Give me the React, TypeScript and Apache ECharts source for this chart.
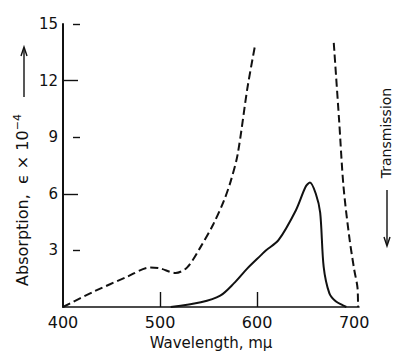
import React, { useEffect, useRef } from "react";
import * as echarts from "echarts";

// Dashed curve, short-wavelength branch (nm, ε×10⁻⁴)
const dashedLeftX = [400, 431, 466, 490, 500, 516, 528, 542, 555, 566, 573, 580, 590, 598];
const dashedLeftY = [0, 0.8, 1.6, 2.1, 2.05, 1.8, 2.1, 3.2, 4.4, 5.66, 6.7, 8.1, 11.6, 13.9];
// Dashed curve, long-wavelength branch
const dashedRightX = [679, 684.5, 689, 695, 700, 703.5, 704];
const dashedRightY = [14.0, 9.9, 6.4, 3.7, 2.0, 1.0, 0];
// Solid curve
const solidX = [511, 542, 562, 576, 590, 604, 609, 622, 640, 650, 654.5, 660.5, 665, 668.6, 674.5, 681, 688, 692];
const solidY = [0, 0.25, 0.6, 1.25, 2.05, 2.75, 3.0, 3.54, 5.13, 6.37, 6.6, 6.0, 5.0, 2.13, 0.72, 0.3, 0.1, 0];

const xTickLabels = [400, 500, 600, 700];
const yTickLabels = [3, 6, 9, 12, 15];
const yLongTicks = [6, 12];
const yShortTicks = [3, 9, 15];
const xTicks = [500, 600];

const zip = (xs: number[], ys: number[]) => xs.map((x, i) => [x, ys[i]]);

const INK = "#111";
const FONT = "DejaVu Sans";

export default function App() {
  const ref = useRef<HTMLDivElement>(null);
  useEffect(() => {
    if (!ref.current) return;
    const chart = echarts.init(ref.current, undefined, { renderer: "svg" });
    chart.setOption({
      animation: false,
      backgroundColor: "#fff",
      grid: { left: 63, right: 36, top: 24, bottom: 48 },
      xAxis: {
        type: "value",
        min: 400,
        max: 705,
        interval: 100,
        splitLine: { show: false },
        axisLine: { lineStyle: { color: INK, width: 1.6 } },
        axisTick: { inside: true, length: 15, customValues: xTicks, lineStyle: { color: INK, width: 1.4 } },
        axisLabel: {
          customValues: xTickLabels,
          color: INK,
          fontFamily: FONT,
          fontSize: 16,
          margin: 7,
        },
        name: "Wavelength, mμ",
        nameLocation: "middle",
        nameGap: 28,
        nameTextStyle: { color: INK, fontFamily: FONT, fontSize: 15 },
      },
      yAxis: [
        {
          type: "value",
          min: 0,
          max: 15,
          interval: 3,
          splitLine: { show: false },
          axisLine: { show: true, lineStyle: { color: INK, width: 2 } },
          axisTick: { show: true, inside: true, length: 15, customValues: yLongTicks, lineStyle: { color: INK, width: 1.4 } },
          axisLabel: {
            customValues: yTickLabels,
            color: INK,
            fontFamily: FONT,
            fontSize: 15,
            margin: 5,
          },
        },
        {
          type: "value",
          position: "left",
          offset: -10,
          min: 0,
          max: 15,
          interval: 3,
          splitLine: { show: false },
          axisLine: { show: false },
          axisTick: { show: true, inside: true, length: 7, customValues: yShortTicks, lineStyle: { color: INK, width: 1.4 } },
          axisLabel: { show: false },
        },
      ],
      series: [
        {
          type: "line",
          data: zip(dashedLeftX, dashedLeftY),
          smooth: 0.3,
          symbol: "none",
          lineStyle: { color: INK, width: 2, type: [8, 4] },
        },
        {
          type: "line",
          data: zip(dashedRightX, dashedRightY),
          smooth: 0.3,
          symbol: "none",
          lineStyle: { color: INK, width: 2, type: [8, 4] },
        },
        {
          type: "line",
          data: zip(solidX, solidY),
          smooth: 0.3,
          symbol: "none",
          lineStyle: { color: INK, width: 2 },
        },
      ],
      graphic: [
        {
          type: "text",
          x: 22,
          y: 200,
          rotation: Math.PI / 2,
          style: {
            text: "{a|Absorption,  ϵ × 10}{s|−4}",
            fill: INK,
            align: "center",
            verticalAlign: "middle",
            rich: {
              a: { fontFamily: FONT, fontSize: 16, fill: INK, lineHeight: 20 },
              s: { fontFamily: FONT, fontSize: 11, fill: INK, lineHeight: 20, padding: [0, 0, 9, 0] },
            },
          },
        },
        { type: "line", shape: { x1: 24, y1: 97, x2: 24, y2: 48 }, style: { stroke: INK, lineWidth: 1.4 } },
        { type: "polyline", shape: { points: [[21, 56], [24, 47], [27, 56]] }, style: { stroke: INK, lineWidth: 1.4, fill: "none" } },
        {
          type: "text",
          x: 386,
          y: 133,
          rotation: Math.PI / 2,
          style: {
            text: "Transmission",
            fill: INK,
            font: `14px "${FONT}"`,
            align: "center",
            verticalAlign: "middle",
          },
        },
        { type: "line", shape: { x1: 387, y1: 190, x2: 387, y2: 245 }, style: { stroke: INK, lineWidth: 1.4 } },
        { type: "polyline", shape: { points: [[384, 237], [387, 246], [390, 237]] }, style: { stroke: INK, lineWidth: 1.4, fill: "none" } },
      ],
    });
    return () => chart.dispose();
  }, []);
  return (
    <div
      ref={ref}
      style={{ position: "fixed", left: 0, top: 0, width: 395, height: 355, background: "#fff" }}
    />
  );
}
